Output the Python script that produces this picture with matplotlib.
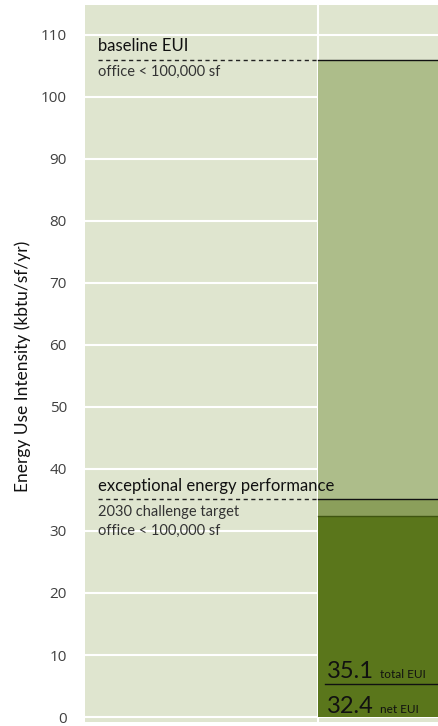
import matplotlib
matplotlib.use("Agg")
import matplotlib.pyplot as plt

# values (kbtu/sf/yr)
baseline_eui = 106.0
total_eui = 35.1
net_eui = 32.4
yticks = [0, 10, 20, 30, 40, 50, 60, 70, 80, 90, 100, 110]

bg = "#dfe5cf"
light = "#adbd8a"
mid = "#8b9f5b"
dark = "#5a761b"

plt.rcParams['font.family'] = ['Lato', 'DejaVu Sans']

fig = plt.figure(figsize=(4.39, 7.26), dpi=100)
ax = fig.add_axes([85 / 439, 4 / 726, 354 / 439, 717 / 726])
ax.set_facecolor(bg)
ax.set_xlim(0, 1.52)
ax.set_ylim(-0.8, 114.8)

# gridlines
for t in yticks:
    ax.axhline(t, color="white", lw=1.5, zorder=1)
ax.axvline(1, color="white", lw=1.5, zorder=1)

# stacked bar: net, offset, savings
ax.bar(1, net_eui, width=1, align="edge", color=dark, zorder=2)
ax.bar(1, total_eui - net_eui, bottom=net_eui, width=1, align="edge", color=mid, zorder=2)
ax.bar(1, baseline_eui - total_eui, bottom=total_eui, width=1, align="edge", color=light, zorder=2)
ax.plot([1, 1.52], [net_eui, net_eui], color="#3f5510", lw=1, zorder=3)

# reference lines
for v in (baseline_eui, total_eui):
    ax.plot([0.055, 1], [v, v], color="#222222", lw=1, ls=(0, (3, 2.5)), zorder=3)
    ax.plot([1, 1.52], [v, v], color="#111111", lw=1, zorder=3)

head = dict(fontsize=12, color="#111111", zorder=4)
sub = dict(fontsize=10.5, color="#333333", zorder=4)
ax.text(0.055, baseline_eui + 0.9, "baseline EUI", va="bottom", **head)
ax.text(0.055, baseline_eui - 0.9, "office < 100,000 sf", va="top", **sub)
ax.text(0.055, total_eui + 0.9, "exceptional energy performance", va="bottom", **head)
ax.text(0.055, total_eui - 0.9, "2030 challenge target\noffice < 100,000 sf", va="top",
        linespacing=1.45, **sub)

# value labels inside bar
ax.text(1.04, 6.3, "35.1", fontsize=17, va="baseline", color="#111111", zorder=4)
ax.text(1.265, 6.3, "total EUI", fontsize=8.5, va="baseline", color="#111111", zorder=4)
ax.plot([1.03, 1.52], [5.3, 5.3], color="#111111", lw=1, zorder=4)
ax.text(1.04, 0.6, "32.4", fontsize=17, va="baseline", color="#111111", zorder=4)
ax.text(1.265, 0.6, "net EUI", fontsize=8.5, va="baseline", color="#111111", zorder=4)

ax.set_yticks(yticks)
ax.set_xticks([])
ax.tick_params(axis="y", length=0, pad=13, labelsize=11, labelcolor="#404040",
               labelfontfamily="Open Sans")
for s in ax.spines.values():
    s.set_visible(False)
fig.text(23 / 439, 1 - 366 / 726, "Energy Use Intensity (kbtu/sf/yr)", rotation=90,
         ha="center", va="center", fontsize=12.5, color="#111111")

fig.savefig("out.png", dpi=100)
